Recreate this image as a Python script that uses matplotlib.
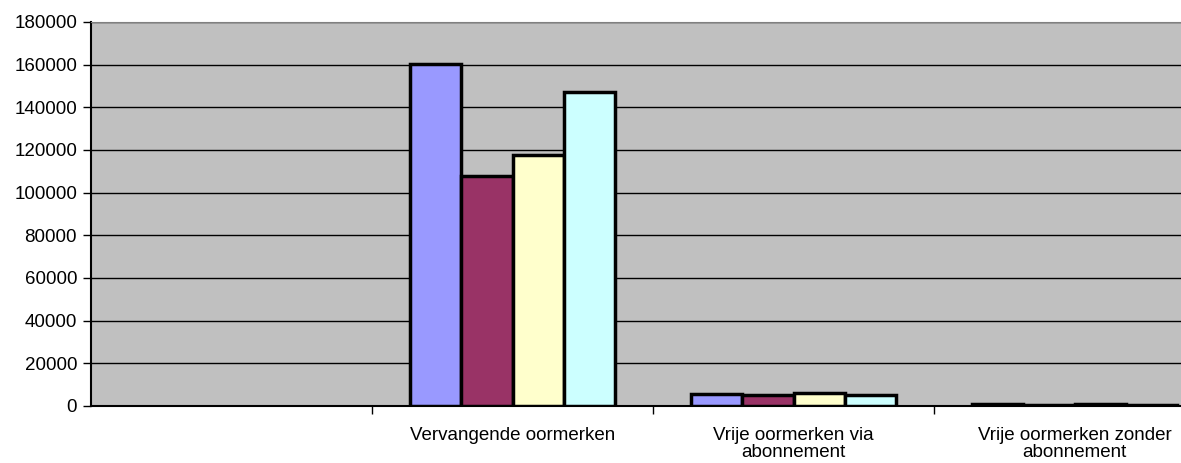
import matplotlib.pyplot as plt
import numpy as np

plt.rcParams['font.family'] = ['Liberation Sans', 'DejaVu Sans']

categories = ['', 'Vervangende oormerken', 'Vrije oormerken via\nabonnement',
              'Vrije oormerken zonder\nabonnement']
# first category is empty in the original chart
serie1 = [np.nan, 160200, 5500, 800]
serie2 = [np.nan, 108000, 5200, 700]
serie3 = [np.nan, 117700, 6300, 900]
serie4 = [np.nan, 147300, 5300, 600]
series = [serie1, serie2, serie3, serie4]
colors = ['#9999FF', '#993366', '#FFFFCC', '#CCFFFF']

fig = plt.figure(figsize=(11.81, 4.63), dpi=100)
# plot area runs past the right edge of the picture (clipped like the original)
ax = fig.add_axes([91 / 1181, 1 - 406 / 463, 1124 / 1181, 384 / 463])
ax.set_facecolor('#C0C0C0')

x = np.arange(len(categories))
w = 1 / (4 + 1.5)
for i, s in enumerate(series):
    ax.bar(x - 2 * w + (i + 0.5) * w, s, width=w, color=colors[i],
           edgecolor='black', linewidth=2.5, zorder=3)

ax.set_xlim(-0.5, len(categories) - 0.5)
ax.set_ylim(0, 180000)
ax.set_yticks(np.arange(0, 180001, 20000))
ax.yaxis.grid(True, color='black', linewidth=1, zorder=0)
ax.set_axisbelow(True)

ax.set_xticks(x[1:] - 0.5)
ax.set_xticklabels([])
ax.set_xticks(x, minor=True)
ax.set_xticklabels(categories, minor=True, linespacing=1.0)
ax.tick_params(axis='x', which='minor', length=0, labelsize=13.5, pad=15)
ax.tick_params(axis='x', which='major', length=6, width=1, direction='out')
ax.tick_params(axis='y', length=6, width=1, direction='out', labelsize=13.5, pad=4)

ax.spines['top'].set_color('#808080')
ax.spines['right'].set_visible(False)
ax.spines['left'].set_linewidth(1.5)
ax.spines['bottom'].set_linewidth(1.5)

fig.savefig('out.png', dpi=100)
